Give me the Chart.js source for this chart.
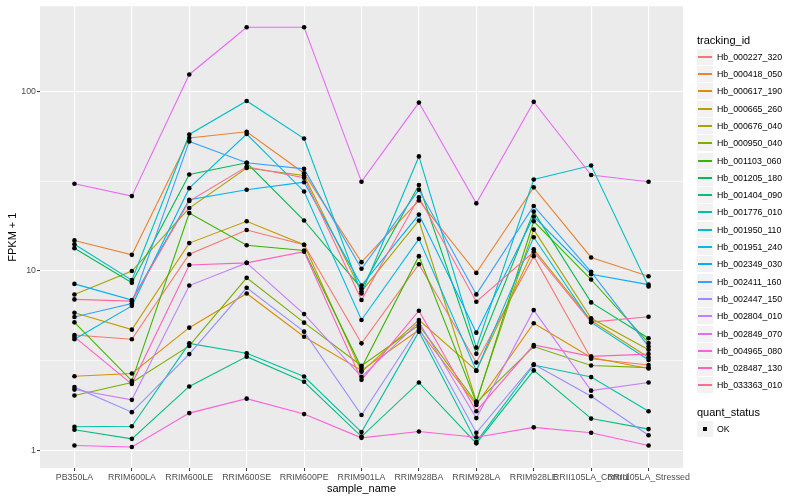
<!DOCTYPE html>
<html>
<head>
<meta charset="utf-8">
<script src="https://cdn.jsdelivr.net/npm/chart.js@4.4.1/dist/chart.umd.min.js"></script>
<style>
  html, body { margin: 0; padding: 0; background: #fff; }
  #wrap { position: relative; width: 800px; height: 500px; font-family: "Liberation Sans", Arial, sans-serif; }
  #chart { position: absolute; left: 0; top: 0; }
  #legend { position: absolute; left: 697px; top: 0; width: 103px; height: 500px; color: #000; }
  .lg-title { position: absolute; left: 0; font-size: 11px; line-height: 13px; white-space: nowrap; }
  .lg-row { position: absolute; left: 0; width: 103px; height: 16px; }
  .lg-key { position: absolute; left: 0; top: 0; width: 16px; height: 16px; background: #F2F2F2; }
  .lg-line { position: absolute; left: 1px; top: 7px; width: 14px; height: 2px; }
  .lg-dot { position: absolute; left: 6px; top: 6px; width: 4px; height: 4px; background: #000; }
  .lg-text { position: absolute; left: 20px; top: 0; line-height: 16px; font-size: 8.8px; white-space: nowrap; }
</style>
</head>
<body>
<div id="wrap">
  <canvas id="chart" width="800" height="500"></canvas>
  <div id="legend"></div>
</div>
<script>
// sample names along x
const samples = ['PB350LA', 'RRIM600LA', 'RRIM600LE', 'RRIM600SE', 'RRIM600PE', 'RRIM901LA',
  'RRIM928BA', 'RRIM928LA', 'RRIM928LE', 'RRII105LA_Control', 'RRII105LA_Stressed'];

const trackingIds = ['Hb_000227_320', 'Hb_000418_050', 'Hb_000617_190', 'Hb_000665_260', 'Hb_000676_040',
  'Hb_000950_040', 'Hb_001103_060', 'Hb_001205_180', 'Hb_001404_090', 'Hb_001776_010',
  'Hb_001950_110', 'Hb_001951_240', 'Hb_002349_030', 'Hb_002411_160', 'Hb_002447_150',
  'Hb_002804_010', 'Hb_002849_070', 'Hb_004965_080', 'Hb_028487_130', 'Hb_033363_010'];

// ggplot hue palette, 20 levels
const colors = ['#F8766D', '#EA8331', '#D89000', '#C09B00', '#A3A500', '#7CAE00', '#39B600', '#00BB4E',
  '#00BF7D', '#00C1A3', '#00BFC4', '#00BAE0', '#00B0F6', '#35A2FF', '#9590FF', '#C77CFF',
  '#E76BF3', '#FA62DB', '#FF62BC', '#FF6C91'];

// FPKM + 1, one row per tracking id
const hb000227 = [4.41, 4.17, 12.4, 16.9, 14.0, 3.96, 10.9, 3.1, 12.1, 3.25, 3.0];
const hb000418 = [14.8, 12.3, 55, 59.5, 35, 11.2, 24.7, 9.76, 29.2, 11.9, 9.36];
const hb000617 = [2.6, 2.69, 4.84, 7.5, 4.31, 2.8, 4.7, 1.8, 5.12, 3.3, 2.87];
const hb000665 = [5.86, 4.72, 14.3, 18.9, 14.0, 2.75, 5.34, 2.79, 13.2, 5.3, 3.3];
const hb000676 = [7.4, 10.0, 22.4, 37.4, 34.0, 7.7, 19.1, 1.88, 17.0, 5.46, 3.65];
const hb000950 = [2.03, 2.4, 3.83, 9.16, 5.16, 2.97, 5.0, 1.85, 3.8, 2.98, 2.9];
const hb001103 = [5.18, 2.45, 21.0, 13.9, 13.0, 2.9, 12.1, 1.86, 18.9, 8.97, 3.98];
const hb001205 = [13.4, 8.6, 34.4, 40.0, 19.1, 8.0, 30.1, 3.46, 21.4, 6.69, 4.23];
const hb001404 = [1.31, 1.165, 2.28, 3.34, 2.42, 1.2, 2.4, 1.1, 2.8, 1.51, 1.32];
const hb001776 = [1.36, 1.37, 3.96, 3.49, 2.59, 1.27, 4.6, 1.12, 3.0, 2.57, 1.66];
const hb001950 = [14.1, 8.9, 57.5, 88.3, 54.6, 7.5, 43.4, 3.75, 32.3, 38.6, 8.2];
const hb001951 = [4.17, 6.4, 28.9, 57.8, 27.7, 5.34, 15.1, 2.79, 15.4, 5.18, 3.2];
const hb002349 = [8.48, 6.9, 24.9, 28.3, 31.2, 8.3, 20.6, 4.54, 20.1, 9.6, 8.4];
const hb002411 = [5.55, 6.6, 52.6, 40.0, 37.0, 10.3, 28.3, 7.41, 23.0, 9.9, 3.8];
const hb002447 = [2.26, 1.64, 3.45, 8.06, 4.6, 1.58, 4.85, 1.26, 3.03, 2.01, 1.22];
const hb002804 = [2.19, 1.92, 8.3, 11.1, 5.76, 2.58, 5.2, 1.52, 6.06, 2.16, 2.4];
const hb002849 = [30.6, 26.1, 124, 227, 227, 31.4, 86.5, 23.8, 87.3, 34.2, 31.4];
const hb004965 = [1.07, 1.05, 1.62, 1.95, 1.6, 1.18, 1.28, 1.19, 1.35, 1.26, 1.07];
const hb028487 = [4.3, 2.35, 10.8, 11.1, 12.8, 2.48, 6.01, 1.66, 3.88, 3.35, 3.45];
const hb033363 = [6.95, 6.8, 24.5, 38.0, 33.0, 6.9, 25.7, 6.75, 12.8, 5.2, 5.57];

const series = [hb000227, hb000418, hb000617, hb000665, hb000676, hb000950, hb001103, hb001205,
  hb001404, hb001776, hb001950, hb001951, hb002349, hb002411, hb002447, hb002804,
  hb002849, hb004965, hb028487, hb033363];

const yMajor = [1, 10, 100];
const yTicks = [1, Math.sqrt(10), 10, Math.sqrt(1000), 100];

const FONT = '"Liberation Sans", Arial, sans-serif';

const datasets = series.map((vals, i) => ({
  label: trackingIds[i],
  data: vals.map((v, j) => ({ x: j, y: v })),
  borderColor: colors[i],
  borderWidth: 1.1,
  pointRadius: 0,
  tension: 0,
  fill: false,
  order: series.length - i,
}));

// quant_status = OK, all points on top of the lines
datasets.push({
  label: 'OK',
  data: series.flatMap(vals => vals.map((v, j) => ({ x: j, y: v }))),
  showLine: false,
  pointRadius: 2.3,
  pointBackgroundColor: '#000',
  pointBorderWidth: 0,
  order: 0,
});

const panelBg = {
  id: 'panelBg',
  beforeDraw(chart) {
    const { ctx, chartArea: a } = chart;
    ctx.save();
    ctx.fillStyle = '#EBEBEB';
    ctx.fillRect(a.left, a.top, a.right - a.left, a.bottom - a.top);
    ctx.restore();
  }
};

const isMajor = v => yMajor.some(m => Math.abs(m - v) < 1e-6);

new Chart(document.getElementById('chart'), {
  type: 'line',
  data: { datasets },
  plugins: [panelBg],
  options: {
    responsive: false,
    animation: false,
    events: [],
    layout: { padding: { left: 0, top: 5, right: 117, bottom: 0 } },
    plugins: { legend: { display: false }, tooltip: { enabled: false } },
    scales: {
      x: {
        type: 'linear',
        min: -0.6,
        max: 10.6,
        afterBuildTicks: s => { s.ticks = samples.map((_, i) => ({ value: i })); },
        afterFit: s => { s.height = 32; },
        ticks: {
          callback: v => samples[v],
          autoSkip: false, maxRotation: 0, minRotation: 0,
          font: { family: FONT, size: 8.8 }, color: '#4D4D4D', padding: 1,
        },
        grid: { color: '#FFFFFF', lineWidth: 1.1, tickLength: 3, tickColor: '#333333', tickWidth: 1 },
        border: { display: false },
        title: {
          display: true, text: 'sample_name', color: '#000',
          font: { family: FONT, size: 11 }, padding: { top: 0, bottom: 4 },
        },
      },
      y: {
        type: 'logarithmic',
        min: 0.802,
        max: 297,
        afterBuildTicks: s => { s.ticks = yTicks.map(v => ({ value: v })); },
        afterFit: s => { s.width = 40; },
        ticks: {
          callback: v => isMajor(v) ? String(Math.round(v)) : '',
          autoSkip: false,
          font: { family: FONT, size: 8.8 }, color: '#4D4D4D', padding: 1,
        },
        grid: {
          color: '#FFFFFF',
          lineWidth: c => isMajor(c.tick.value) ? 1.1 : 0.55,
          tickLength: 3,
          tickColor: c => isMajor(c.tick.value) ? '#333333' : 'rgba(0,0,0,0)',
          tickWidth: 1,
        },
        border: { display: false },
        title: {
          display: true, text: 'FPKM + 1', color: '#000',
          font: { family: FONT, size: 11 }, padding: { top: 6, bottom: 0 },
        },
      },
    },
  },
});

// legend, ggplot style
const legend = document.getElementById('legend');
let out = '<div class="lg-title" style="top:34px">tracking_id</div>';
trackingIds.forEach((id, i) => {
  const top = Math.round(48.7 + i * 17.3);
  out += `<div class="lg-row" style="top:${top}px"><div class="lg-key"><div class="lg-line" style="background:${colors[i]}"></div></div><div class="lg-text">${id}</div></div>`;
});
out += '<div class="lg-title" style="top:406px">quant_status</div>';
out += '<div class="lg-row" style="top:421px"><div class="lg-key"><div class="lg-dot"></div></div><div class="lg-text">OK</div></div>';
legend.innerHTML = out;
</script>
</body>
</html>
